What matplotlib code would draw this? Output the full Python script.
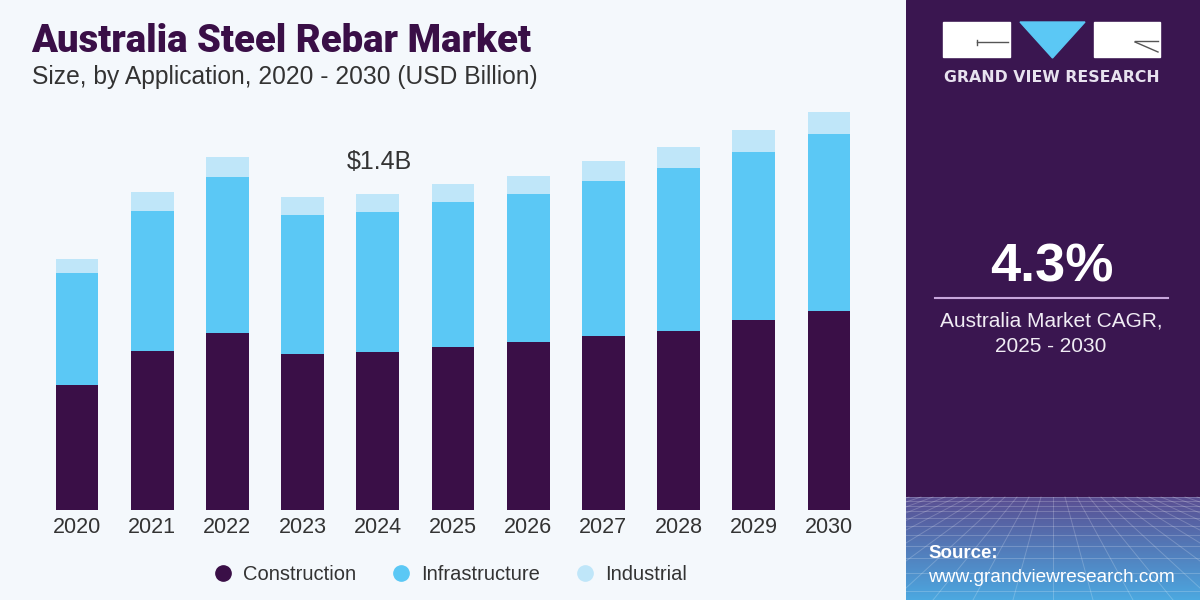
import numpy as np
import matplotlib
matplotlib.use("Agg")
import matplotlib.pyplot as plt
from matplotlib.patches import Rectangle, Polygon
from matplotlib.lines import Line2D

years = ["2020", "2021", "2022", "2023", "2024", "2025", "2026", "2027", "2028", "2029", "2030"]
construction = [0.554, 0.704, 0.783, 0.690, 0.699, 0.721, 0.743, 0.771, 0.793, 0.842, 0.882]
infrastructure = [0.498, 0.622, 0.691, 0.617, 0.623, 0.642, 0.657, 0.687, 0.724, 0.746, 0.784]
industrial = [0.061, 0.082, 0.089, 0.078, 0.078, 0.081, 0.081, 0.086, 0.090, 0.096, 0.096]
series_names = ["Construction", "Infrastructure", "Industrial"]
annotation_year = "2024"
annotation_text = "$1.4B"
cagr_text = "4.3%"

C_CON = "#3a0f47"
C_INF = "#5bc8f5"
C_IND = "#bfe6f9"
BG = "#f4f8fc"
PANEL = "#3a1650"
TXT = "#333333"

W, H = 1200, 600
fig = plt.figure(figsize=(12, 6), dpi=100, facecolor=BG)

def fx(x):
    return x / W

def fy(y):
    return 1 - y / H

# Main axes
ax = fig.add_axes([fx(39.4), fy(510), fx(866.6) - fx(39.4), (406.3) / H])
ax.set_facecolor(BG)
x = np.arange(len(years))
con = np.array(construction)
inf = np.array(infrastructure)
ind = np.array(industrial)
bw = 0.57
ax.bar(x, con, width=bw, color=C_CON, linewidth=0)
ax.bar(x, inf, width=bw, bottom=con, color=C_INF, linewidth=0)
ax.bar(x, ind, width=bw, bottom=con + inf, color=C_IND, linewidth=0)
ax.set_xlim(-0.5, len(years) - 0.5)
ax.set_ylim(0, 1.8)
for s in ax.spines.values():
    s.set_visible(False)
ax.set_yticks([])
ax.set_xticks(x)
ax.set_xticklabels(years, fontsize=15.5, color=TXT, family="Liberation Sans")
ax.tick_params(axis="x", length=0, pad=5)

ai = years.index(annotation_year)
tot = con[ai] + inf[ai] + ind[ai]
ax.annotate(annotation_text, (ai, tot), xytext=(1, 23), textcoords="offset points",
            ha="center", va="center", fontsize=18, color=TXT, family="Liberation Sans")

# Titles
fig.text(fx(31), fy(52), "Australia Steel Rebar Market", fontsize=27.5, fontweight=900,
         color=C_CON, family="Roboto", va="baseline")
fig.text(fx(32), fy(84), "Size, by Application, 2020 - 2030 (USD Billion)", fontsize=17.7,
         color=TXT, family="Liberation Sans", va="baseline")

# Legend
handles = [Line2D([], [], marker="o", linestyle="", markersize=11, markerfacecolor=c,
                  markeredgecolor=c) for c in (C_CON, C_INF, C_IND)]
fig.legend(handles, series_names, loc="center", bbox_to_anchor=(fx(450), fy(575)), ncol=3,
           frameon=False, handlelength=1.0, handletextpad=0.5, columnspacing=1.75,
           prop={"family": "Liberation Sans", "size": 14.5}, labelcolor=TXT)

# Right panel
pax = fig.add_axes([fx(906), 0, 1 - fx(906), 1])
pax.set_xlim(906, 1200)
pax.set_ylim(600, 0)
pax.axis("off")
pax.add_patch(Rectangle((906, 0), 294, 600, color=PANEL, zorder=0))
# gradient bottom
grad_top = 497
n = 100
t = np.linspace(0, 1, n)[:, None]
c0 = np.array([0x5a, 0x4e, 0x92]) / 255
c1 = np.array([0x4c, 0xa8, 0xe0]) / 255
img = (c0[None, None, :] * (1 - t[..., None]) + c1[None, None, :] * t[..., None])
img = np.repeat(img, 2, axis=1)
pax.imshow(img, extent=(906, 1200, 600, grad_top), aspect="auto", zorder=1)
# perspective grid
for k in range(-14, 30):
    x0 = 1053 + k * 12
    x1 = 1053 + k * 40
    pax.plot([x0, x1], [grad_top, 600], color="white", alpha=0.2, lw=0.7, zorder=2)
yy = grad_top
step = 4
while yy < 600:
    pax.plot([906, 1200], [yy, yy], color="white", alpha=0.2, lw=0.7, zorder=2)
    yy += step
    step *= 1.18

# logo
pax.add_patch(Rectangle((943, 22), 67, 35, color="white", zorder=3))
pax.plot([977, 1008], [42, 42], color="#555555", lw=1, zorder=4)
pax.plot([977, 977], [40, 45], color="#555555", lw=1, zorder=4)
pax.add_patch(Polygon([(1020, 22), (1085, 22), (1052.5, 58)], closed=True, color=C_INF, zorder=3))
pax.add_patch(Rectangle((1094, 22), 66, 35, color="white", zorder=3))
pax.plot([1135, 1158], [42, 52], color="#555555", lw=1, zorder=4)
pax.plot([1135, 1158], [41, 41], color="#555555", lw=1, zorder=4)
pax.text(1052, 78, "GRAND VIEW RESEARCH", ha="center", va="center", color="#e8e2ef",
         fontsize=11.3, fontweight="bold", family="DejaVu Sans", zorder=4)

pax.text(1052, 268, cagr_text, ha="center", va="center", color="white", fontsize=39,
         fontweight="bold", family="Liberation Sans", zorder=4)
pax.plot([935, 1168], [298, 298], color="#c7a6dc", lw=1.5, zorder=4)
pax.text(1051, 321, "Australia Market CAGR,", ha="center", va="center", color="#f0ecf4",
         fontsize=15, family="Liberation Sans", zorder=4)
pax.text(1051, 346, "2025 - 2030", ha="center", va="center", color="#f0ecf4",
         fontsize=15, family="Liberation Sans", zorder=4)
pax.text(928, 553, "Source:", ha="left", va="center", color="white", fontsize=13.5,
         fontweight="bold", family="Liberation Sans", zorder=4)
pax.text(928, 577, "www.grandviewresearch.com", ha="left", va="center", color="white",
         fontsize=13.7, family="Liberation Sans", zorder=4)

fig.savefig("out.png", dpi=100, facecolor=BG)
